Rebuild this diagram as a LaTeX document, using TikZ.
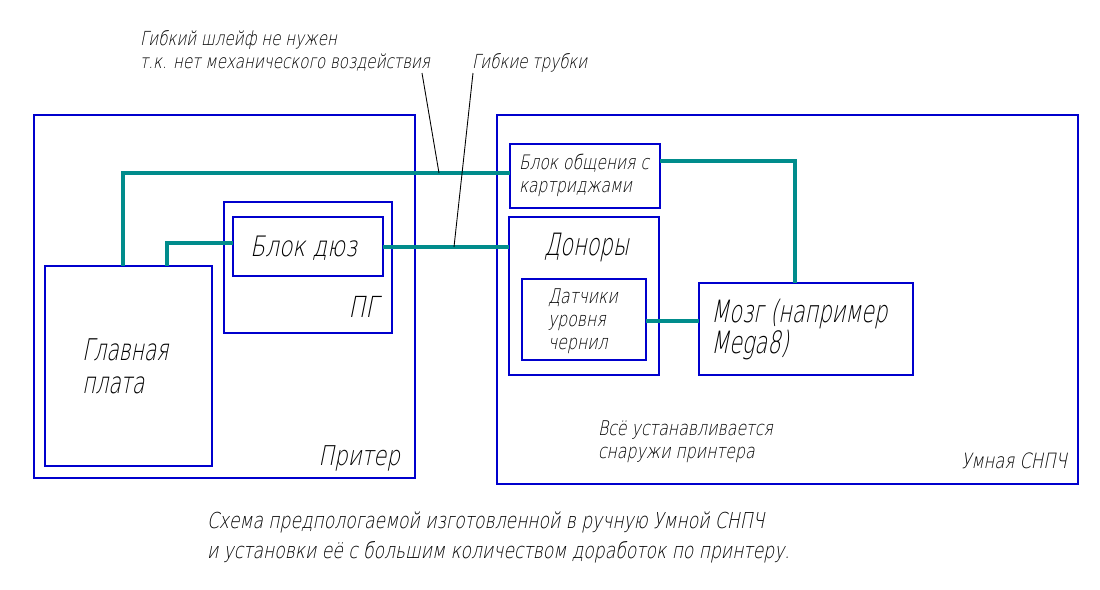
\documentclass[tikz,border=0pt]{standalone}
\usepackage{fontspec}
\setmainfont{DejaVu Sans ExtraLight}[FakeSlant=0.2,FakeStretch=0.78]
\newfontfamily\narrowf{DejaVu Sans ExtraLight}[FakeSlant=0.2,FakeStretch=0.68]
\definecolor{boxblue}{RGB}{0,0,205}
\definecolor{wire}{RGB}{0,140,140}
\begin{document}
\begin{tikzpicture}[x=0.02cm,y=-0.02cm,
  box/.style={draw=boxblue,line width=1.4pt,inner sep=0pt,outer sep=0pt},
  wireline/.style={draw=wire,line width=2.1pt},
  leader/.style={draw=black,line width=0.5pt},
  txt/.style={inner sep=0pt,outer sep=0pt,anchor=base west},
  txtr/.style={inner sep=0pt,outer sep=0pt,anchor=base east}]
\fill[white] (0,0) rectangle (1100,589);
\useasboundingbox (0,0) rectangle (1100,589);
% boxes: (x1,y1)-(x2,y2) -> center and size
\newcommand{\mybox}[5]{\node[box,minimum width={(#4-#2)*0.02cm},minimum height={(#5-#3)*0.02cm}] (#1) at ({(#2+#4)/2},{(#3+#5)/2}) {};}
\mybox{printer}{34}{115}{415}{478}
\mybox{mainb}{45}{266}{212}{466}
\mybox{pg}{224}{202}{392}{333}
\mybox{dyuz}{233}{217}{383}{276}
\mybox{snpch}{497}{115}{1078}{484}
\mybox{obsh}{510}{144}{660}{208}
\mybox{donors}{509}{217}{659}{375}
\mybox{datch}{522}{279}{646}{360}
\mybox{mozg}{699}{283}{913}{375}
% wires
\coordinate (c1) at (123,173);
\coordinate (c2) at (167,243);
\coordinate (c4) at (795,161);
\draw[wireline] (mainb.north -| c1) |- (obsh.west |- c1);
\draw[wireline] (mainb.north -| c2) |- (dyuz.west |- c2);
\draw[wireline] (dyuz.east |- 0,247) coordinate (d1) -- (d1 -| donors.west);
\draw[wireline] (obsh.east |- c4) -| (mozg.north -| c4);
\draw[wireline] (datch.east |- 0,321) coordinate (d2) -- (d2 -| mozg.west);
% leaders
\coordinate (p1) at (439,173);
\coordinate (p2) at (454,247);
\coordinate (q1) at (422,73);
\coordinate (q2) at (473,73);
\draw[leader] (q1) -- (p1);
\draw[leader] (q2) -- (p2);
% texts
\node[txt,font=\fontsize{11}{13}\selectfont] (n1a) at (140,45) {Гибкий шлейф не нужен};
\node[txt,font=\fontsize{11}{13}\selectfont] (n1b) at (140,68) {т.к. нет механического воздействия};
\node[txt,font=\fontsize{11}{13}\selectfont] (n2) at (472,68) {Гибкие трубки};
\node[txt,font=\fontsize{11.3}{13}\selectfont] (t1a) at (519,169) {Блок общения с};
\node[txt,font=\fontsize{11.3}{13}\selectfont] (t1b) at (519,192) {картриджами};
\node[txt,font=\fontsize{16}{19}\selectfont] (t2) at (250,256) {Блок дюз};
\node[txtr,font=\fontsize{16.5}{19}\selectfont] (t3) at (378,317) {ПГ};
\node[txt,font=\narrowf\fontsize{17}{19}\selectfont] (t4a) at (82,360) {Главная};
\node[txt,font=\narrowf\fontsize{17}{19}\selectfont] (t4b) at (82,393) {плата};
\node[txtr,font=\fontsize{15.5}{19}\selectfont] (t5) at (400,465) {Притер};
\node[txt,font=\narrowf\fontsize{17.5}{20}\selectfont] (t6) at (544,255) {Доноры};
\node[txt,font=\fontsize{11.5}{13}\selectfont] (t7a) at (548,303) {Датчики};
\node[txt,font=\fontsize{11.5}{13}\selectfont] (t7b) at (548,326) {уровня};
\node[txt,font=\fontsize{11.5}{13}\selectfont] (t7c) at (548,349) {чернил};
\node[txt,font=\narrowf\fontsize{17.5}{20}\selectfont] (t8a) at (711,322) {Мозг (например};
\node[txt,font=\narrowf\fontsize{17.5}{20}\selectfont] (t8b) at (711,353) {Mega8)};
\node[txt,font=\fontsize{11.5}{13}\selectfont] (t9a) at (598,435) {Всё устанавливается};
\node[txt,font=\fontsize{11.5}{13}\selectfont] (t9b) at (598,458) {снаружи принтера};
\node[txtr,font=\fontsize{12}{14}\selectfont] (t10) at (1067,468) {Умная СНПЧ};
\node[txt,font=\fontsize{12.5}{15}\selectfont] (cap1) at (207,528) {Схема предпологаемой изготовленной в ручную Умной СНПЧ};
\node[txt,font=\fontsize{12.5}{15}\selectfont] (cap2) at (207,558) {и установки её с большим количеством доработок по принтеру.};
\end{tikzpicture}
\end{document}
